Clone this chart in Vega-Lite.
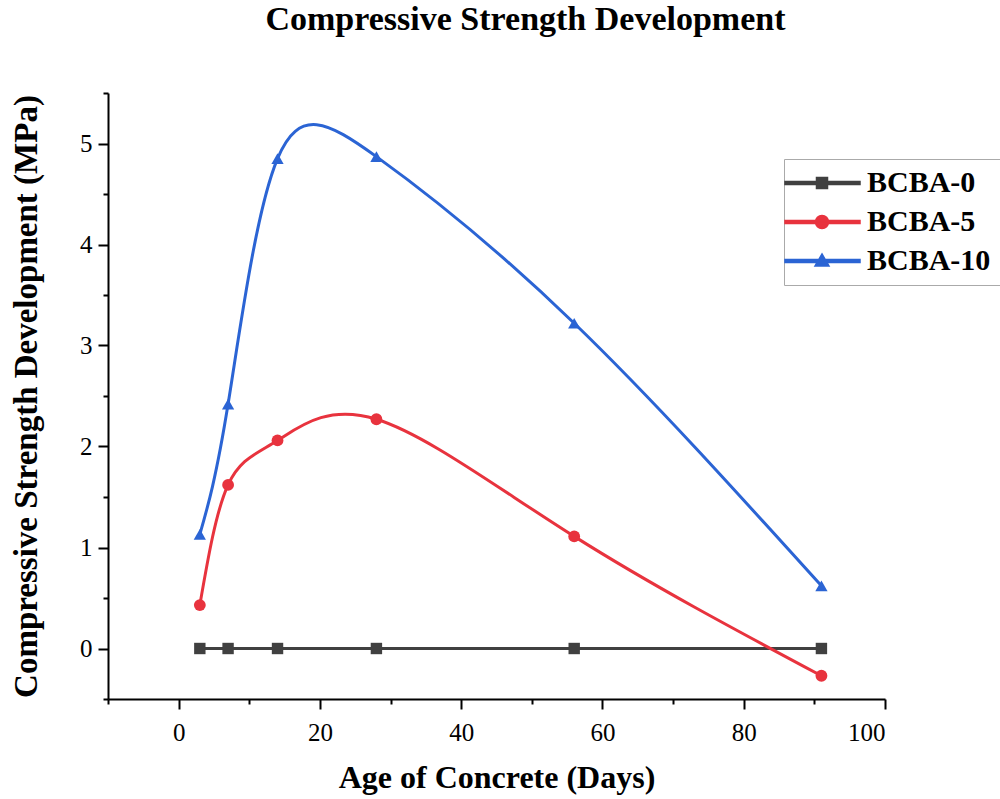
{
  "$schema": "https://vega.github.io/schema/vega-lite/v6.json",
  "width": 777,
  "height": 606,
  "autosize": {"type": "none"},
  "padding": {"left": 108, "top": 93, "right": 115, "bottom": 100},
  "background": "white",
  "title": {
    "text": "Compressive Strength Development",
    "font": "Liberation Serif",
    "fontSize": 34,
    "fontWeight": "bold",
    "color": "black",
    "anchor": "middle",
    "baseline": "alphabetic",
    "offset": 28,
    "dx": 29
  },
  "config": {
    "view": {"stroke": null},
    "axis": {
      "grid": false,
      "domainColor": "black",
      "domainWidth": 2,
      "tickColor": "black",
      "tickWidth": 2,
      "labelFont": "Liberation Serif",
      "labelFontSize": 25,
      "labelColor": "black",
      "titleFont": "Liberation Serif",
      "titleFontWeight": "bold",
      "titleColor": "black"
    }
  },
  "data": {
    "values": [
      {"age": 3, "strength": 0, "series": "BCBA-0"},
      {"age": 7, "strength": 0, "series": "BCBA-0"},
      {"age": 14, "strength": 0, "series": "BCBA-0"},
      {"age": 28, "strength": 0, "series": "BCBA-0"},
      {"age": 56, "strength": 0, "series": "BCBA-0"},
      {"age": 91, "strength": 0, "series": "BCBA-0"},
      {"age": 3, "strength": 0.43, "series": "BCBA-5"},
      {"age": 7, "strength": 1.62, "series": "BCBA-5"},
      {"age": 14, "strength": 2.06, "series": "BCBA-5"},
      {"age": 28, "strength": 2.27, "series": "BCBA-5"},
      {"age": 56, "strength": 1.11, "series": "BCBA-5"},
      {"age": 91, "strength": -0.27, "series": "BCBA-5"},
      {"age": 3, "strength": 1.13, "series": "BCBA-10"},
      {"age": 7, "strength": 2.42, "series": "BCBA-10"},
      {"age": 14, "strength": 4.85, "series": "BCBA-10"},
      {"age": 28, "strength": 4.87, "series": "BCBA-10"},
      {"age": 56, "strength": 3.22, "series": "BCBA-10"},
      {"age": 91, "strength": 0.62, "series": "BCBA-10"}
    ]
  },
  "resolve": {"axis": {"x": "independent", "y": "independent"}},
  "layer": [
    {
      "mark": {"type": "point", "filled": true, "size": 400, "opacity": 0},
      "encoding": {
        "x": {"field": "age", "type": "quantitative", "scale": {"domain": [-10, 100], "nice": false, "zero": false}, "axis": null},
        "y": {"field": "strength", "type": "quantitative", "scale": {"domain": [-0.5, 5.5], "nice": false, "zero": false}, "axis": null},
        "color": {
          "field": "series", "type": "nominal",
          "scale": {"domain": ["BCBA-0", "BCBA-5", "BCBA-10"], "range": ["#404040", "#e8333e", "#2b64d4"]},
          "legend": {
            "orient": "none",
            "legendX": 676,
            "legendY": 66,
            "title": null,
            "strokeColor": "#aaaaaa",
            "fillColor": "white",
            "padding": 9,
            "symbolSize": 400,
            "symbolOpacity": 1,
            "labelFont": "Liberation Serif",
            "labelFontSize": 30,
            "labelFontWeight": "bold",
            "labelColor": "black",
            "labelOffset": 44,
            "rowPadding": 9
          }
        },
        "shape": {
          "field": "series", "type": "nominal",
          "scale": {
            "domain": ["BCBA-0", "BCBA-5", "BCBA-10"],
            "range": [
              "M-2.3,-0.15L5.2,-0.15L5.2,0.15L-2.3,0.15Z M0.85,-0.55L1.95,-0.55L1.95,0.55L0.85,0.55Z",
              "M-2.3,-0.15L5.2,-0.15L5.2,0.15L-2.3,0.15Z M0.75,0A0.65,0.65 0 1,1 2.05,0A0.65,0.65 0 1,1 0.75,0Z",
              "M-2.3,-0.15L5.2,-0.15L5.2,0.15L-2.3,0.15Z M1.4,-0.7L2.1,0.5L0.7,0.5Z"
            ]
          },
          "legend": {
            "orient": "none",
            "legendX": 676,
            "legendY": 66,
            "title": null,
            "strokeColor": "#aaaaaa",
            "fillColor": "white",
            "padding": 9,
            "symbolSize": 400,
            "symbolOpacity": 1,
            "labelFont": "Liberation Serif",
            "labelFontSize": 30,
            "labelFontWeight": "bold",
            "labelColor": "black",
            "labelOffset": 44,
            "rowPadding": 9
          }
        }
      }
    },
    {
      "mark": {"type": "line", "interpolate": "natural", "strokeWidth": 3},
      "encoding": {
        "x": {
          "field": "age", "type": "quantitative",
          "axis": {
            "orient": "bottom",
            "title": "Age of Concrete (Days)",
            "titleFontSize": 32,
            "values": [0, 20, 40, 60, 80, 100],
            "tickSize": 10,
            "labelPadding": 11,
            "titlePadding": 17
          }
        },
        "y": {
          "field": "strength", "type": "quantitative",
          "axis": {
            "orient": "left",
            "title": "Compressive Strength Development (MPa)",
            "titleFontSize": 33,
            "values": [0, 1, 2, 3, 4, 5],
            "tickSize": 10,
            "labelPadding": 6,
            "titlePadding": 36
          }
        },
        "color": {"field": "series", "type": "nominal", "legend": null}
      }
    },
    {
      "transform": [{"filter": "datum.series === 'BCBA-0'"}],
      "mark": {"type": "point", "filled": true, "shape": "square", "size": 130, "opacity": 1},
      "encoding": {
        "x": {
          "field": "age", "type": "quantitative",
          "axis": {
            "orient": "bottom",
            "title": null,
            "values": [-10, 10, 30, 50, 70, 90],
            "labels": false,
            "domain": false,
            "tickSize": 5
          }
        },
        "y": {
          "field": "strength", "type": "quantitative",
          "axis": {
            "orient": "left",
            "title": null,
            "values": [-0.5, 0.5, 1.5, 2.5, 3.5, 4.5, 5.5],
            "labels": false,
            "domain": false,
            "tickSize": 5
          }
        },
        "color": {"field": "series", "type": "nominal", "legend": null}
      }
    },
    {
      "transform": [{"filter": "datum.series === 'BCBA-5'"}],
      "mark": {"type": "point", "filled": true, "shape": "circle", "size": 140, "opacity": 1},
      "encoding": {
        "x": {"field": "age", "type": "quantitative", "axis": null},
        "y": {"field": "strength", "type": "quantitative", "axis": null},
        "color": {"field": "series", "type": "nominal", "legend": null}
      }
    },
    {
      "transform": [{"filter": "datum.series === 'BCBA-10'"}],
      "mark": {"type": "point", "filled": true, "shape": "triangle-up", "size": 150, "opacity": 1},
      "encoding": {
        "x": {"field": "age", "type": "quantitative", "axis": null},
        "y": {"field": "strength", "type": "quantitative", "axis": null},
        "color": {"field": "series", "type": "nominal", "legend": null}
      }
    }
  ]
}
